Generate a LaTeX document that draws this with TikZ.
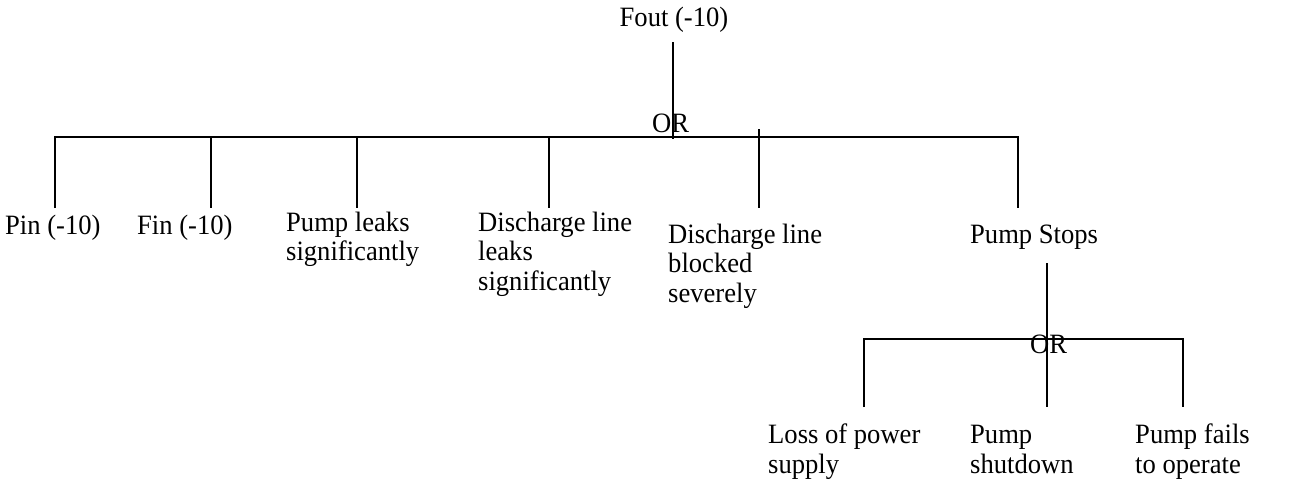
\documentclass[tikz,border=0pt]{standalone}
\usepackage{fontspec}
\setmainfont[FakeStretch=0.95]{Liberation Serif}
\begin{document}
\begin{tikzpicture}[x=1pt,y=-1pt,
  % multi-line labels are placed by the baseline of their last line
  lbl/.style={inner sep=0pt, anchor=base west, align=left,
              font=\fontsize{28}{29.5}\selectfont},
  wire/.style={line width=1.3pt, black}]
\useasboundingbox (0,0) rectangle (1291,480);

% top event
\node[lbl, anchor=base] (fout) at (674,26) {Fout (-10)};

% first-level events
\node[lbl] (pin)    at (5,234)     {Pin (-10)};
\node[lbl] (fin)    at (137,234)   {Fin (-10)};
\node[lbl] (pleak)  at (286,260.5) {Pump leaks\\significantly};
\node[lbl] (dleak)  at (478,290)   {Discharge line\\leaks\\significantly};
\node[lbl] (dblock) at (668,302)   {Discharge line\\blocked\\severely};
\node[lbl] (stops)  at (970,243)   {Pump Stops};

% second-level events
\node[lbl] (loss)  at (768,473)  {Loss of power\\supply};
\node[lbl] (shut)  at (970,473)  {Pump\\shutdown};
\node[lbl] (fails) at (1135,473) {Pump fails\\to operate};

% gate and connector points
\coordinate (gA)       at (673,137);
\coordinate (foutfoot) at (673,42);
\coordinate (pinTop)   at (55,208);
\coordinate (finTop)   at (211,208);
\coordinate (plTop)    at (357,208);
\coordinate (dlTop)    at (549,208);
\coordinate (dbTop)    at (759,208);
\coordinate (dbHead)   at (759,129);
\coordinate (stTop)    at (1018,208);

\coordinate (gB)       at (1047,339);
\coordinate (stFoot)   at (1047,263);
\coordinate (lossTop)  at (864,407);
\coordinate (shTop)    at (1047,407);
\coordinate (faTop)    at (1183,407);

% upper OR gate
\draw[wire] (foutfoot) -- ([yshift=-2pt]gA);
\draw[wire] (pinTop) -- (pinTop |- gA) -- (stTop |- gA) -- (stTop);
\draw[wire] (finTop |- gA) -- (finTop);
\draw[wire] (plTop |- gA) -- (plTop);
\draw[wire] (dlTop |- gA) -- (dlTop);
\draw[wire] (dbHead) -- (dbTop);
\node[lbl] (orA) at (652,132) {OR};

% lower OR gate
\draw[wire] (stFoot) -- (shTop);
\draw[wire] (lossTop) -- (lossTop |- gB) -- (faTop |- gB) -- (faTop);
\node[lbl] (orB) at (1030,353) {OR};
\end{tikzpicture}
\end{document}
